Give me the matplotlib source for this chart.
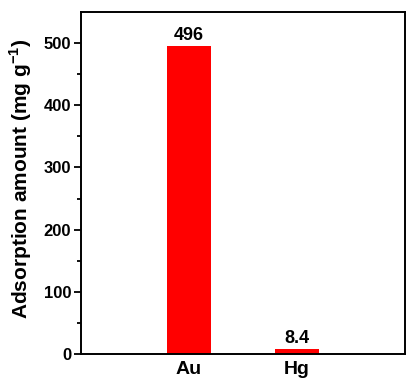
import matplotlib
matplotlib.use("Agg")
import matplotlib.pyplot as plt

categories = ["Au", "Hg"]
values = [496, 8.4]
value_labels = ["496", "8.4"]

plt.rcParams['font.family'] = ['Liberation Sans', 'DejaVu Sans']
plt.rcParams['font.weight'] = 'bold'
plt.rcParams['mathtext.fontset'] = 'custom'
plt.rcParams['mathtext.rm'] = 'Liberation Sans:bold'
plt.rcParams['mathtext.bf'] = 'Liberation Sans:bold'

fig = plt.figure(figsize=(4.07, 3.79), dpi=100)
ax = fig.add_axes([81/407, 1-354/379, (405-81)/407, (354-12)/379])
x = [1, 2]
ax.bar(x, values, width=0.4, color='#ff0000')
for xi, v, lab in zip(x, values, value_labels):
    ax.text(xi, v + 3, lab, ha='center', va='bottom', fontsize=13, fontweight='bold')
ax.set_xlim(0, 3)
ax.set_ylim(0, 550)
ax.set_xticks(x)
ax.set_xticklabels(categories, fontsize=14, fontweight='bold')
ax.set_yticks([0, 100, 200, 300, 400, 500])
ax.set_yticks(range(50, 550, 100), minor=True)
ax.tick_params(axis='y', which='major', direction='out', length=5, width=1.3, labelsize=12, pad=2)
ax.tick_params(axis='y', which='minor', direction='out', length=3, width=1.3)
ax.tick_params(axis='x', length=0, pad=5)
for lab in ax.get_yticklabels():
    lab.set_fontweight('bold')
for s in ax.spines.values():
    s.set_linewidth(1.4)
ax.set_ylabel('Adsorption amount (mg g$^{\\mathrm{-1}}$)', fontsize=15, fontweight='bold', labelpad=4)
ax.yaxis.set_label_coords(-47/324, 0.512)
fig.savefig('out.png', dpi=100)
